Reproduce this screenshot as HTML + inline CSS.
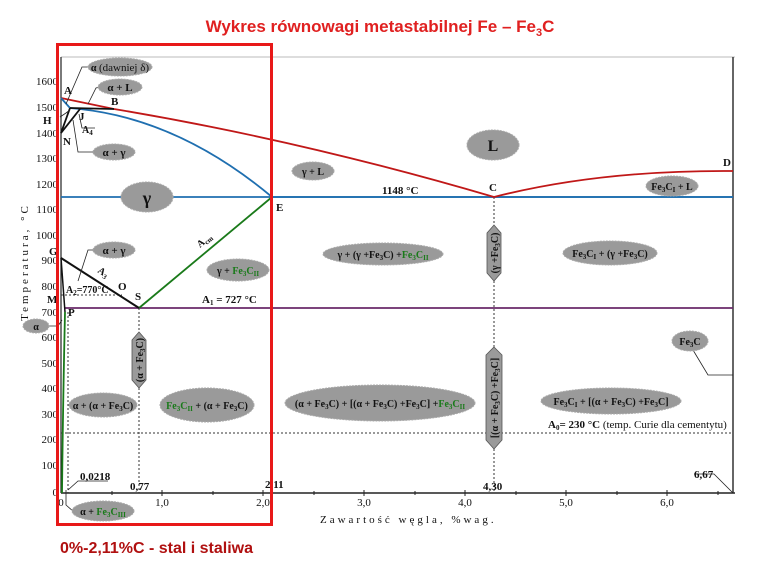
<!DOCTYPE html>
<html><head><meta charset="utf-8"><style>
html,body{margin:0;padding:0;background:#fff;width:760px;height:570px;overflow:hidden}
svg{display:block}
text{font-family:"Liberation Serif",serif;font-weight:bold;fill:#111}
.t{font-size:11px}
.n{font-size:11px;font-weight:normal}
.e{fill:#9a9a9a;stroke:#aaa;stroke-dasharray:2 1}
.g{fill:#1a7a1a}
</style></head><body>
<svg width="760" height="570" viewBox="0 0 760 570" xmlns="http://www.w3.org/2000/svg">
<text x="380" y="32" text-anchor="middle" style="font-family:'Liberation Sans',sans-serif;font-size:17px;fill:#e02020">Wykres równowagi metastabilnej Fe – Fe<tspan font-size="11" dy="4">3</tspan><tspan dy="-4">C</tspan></text>

<!-- axes -->
<line x1="61" y1="57" x2="735" y2="57" stroke="#bbb" stroke-width="1"/>
<line x1="61" y1="57" x2="61" y2="493" stroke="#222" stroke-width="1.2"/>
<line x1="61" y1="493" x2="735" y2="493" stroke="#222" stroke-width="1.5"/>
<line x1="733" y1="57" x2="733" y2="493" stroke="#333" stroke-width="1.5"/>
<g stroke="#222" stroke-width="1">
<line x1="162" y1="490" x2="162" y2="496"/><line x1="263" y1="490" x2="263" y2="496"/><line x1="364" y1="490" x2="364" y2="496"/><line x1="465" y1="490" x2="465" y2="496"/><line x1="566" y1="490" x2="566" y2="496"/><line x1="667" y1="490" x2="667" y2="496"/>
<line x1="112" y1="491" x2="112" y2="495"/><line x1="213" y1="491" x2="213" y2="495"/><line x1="314" y1="491" x2="314" y2="495"/><line x1="415" y1="491" x2="415" y2="495"/><line x1="516" y1="491" x2="516" y2="495"/><line x1="617" y1="491" x2="617" y2="495"/><line x1="718" y1="491" x2="718" y2="495"/>
</g>
<g class="n" text-anchor="end" font-size="11">
<text class="n" x="58" y="85">1600</text><text class="n" x="58" y="111">1500</text><text class="n" x="58" y="137">1400</text><text class="n" x="58" y="162">1300</text><text class="n" x="58" y="188">1200</text><text class="n" x="58" y="213">1100</text><text class="n" x="58" y="239">1000</text><text class="n" x="58" y="264">900</text><text class="n" x="58" y="290">800</text><text class="n" x="58" y="316">700</text><text class="n" x="58" y="341">600</text><text class="n" x="58" y="367">500</text><text class="n" x="58" y="392">400</text><text class="n" x="58" y="418">300</text><text class="n" x="58" y="443">200</text><text class="n" x="58" y="469">100</text><text class="n" x="58" y="496">0</text>
</g>
<g font-size="11" text-anchor="middle">
<text class="n" x="61" y="506">0</text><text class="n" x="162" y="506">1,0</text><text class="n" x="263" y="506">2,0</text><text class="n" x="364" y="506">3,0</text><text class="n" x="465" y="506">4,0</text><text class="n" x="566" y="506">5,0</text><text class="n" x="667" y="506">6,0</text>
</g>
<text class="n" x="320" y="523" font-size="11" letter-spacing="3">Zawartość węgla, %wag.</text>
<text class="n" transform="translate(28,262) rotate(-90)" text-anchor="middle" font-size="11" letter-spacing="3">Temperatura, °C</text>

<!-- dotted -->
<g stroke="#333" stroke-width="1" stroke-dasharray="2 2" fill="none">
<line x1="61" y1="433" x2="733" y2="433"/>
<line x1="61" y1="295" x2="122" y2="295"/>
<line x1="139" y1="308" x2="139" y2="493"/>
<line x1="494" y1="197" x2="494" y2="493"/>
<line x1="68" y1="312" x2="68" y2="493"/>
<line x1="272" y1="197" x2="272" y2="493"/>
</g>

<!-- lines -->
<line x1="61" y1="197" x2="733" y2="197" stroke="#1f6fb0" stroke-width="1.8"/>
<line x1="272" y1="197" x2="733" y2="197" stroke="#1f6fb0" stroke-width="1.8"/>
<line x1="64" y1="308" x2="733" y2="308" stroke="#6a2a6a" stroke-width="1.8"/>
<path d="M61,98 L114,109 Q300,140 494,197 Q600,170 733,171" fill="none" stroke="#c01818" stroke-width="1.8"/>
<path d="M61,98 L70,108 L80,109 Q180,120 272,197" fill="none" stroke="#1f6fb0" stroke-width="1.8"/>
<line x1="272" y1="197" x2="139" y2="308" stroke="#1a7a1a" stroke-width="1.8"/>
<path d="M65,312 Q63,400 62,493" fill="none" stroke="#1a7a1a" stroke-width="1.8"/>
<line x1="61" y1="258" x2="139" y2="308" stroke="#111" stroke-width="2"/>
<line x1="61" y1="258" x2="65" y2="312" stroke="#111" stroke-width="1.5"/>
<line x1="70" y1="108" x2="114" y2="109" stroke="#111" stroke-width="1.8"/>
<line x1="61" y1="133" x2="70" y2="108" stroke="#111" stroke-width="1.8"/>
<line x1="61" y1="133" x2="80" y2="109" stroke="#111" stroke-width="1.8"/>

<!-- leaders -->
<g stroke="#222" stroke-width="0.8" fill="none">
<polyline points="66,104 82,67 92,67"/>
<polyline points="88,104 96,88 100,87"/>
<polyline points="73,120 78,152 96,152"/>
<polyline points="60,117 66,113 70,110"/>
<polyline points="79,114 82,128 95,128"/>
<polyline points="78,281 88,250 96,250"/>
<polyline points="48,326 58,326 62,320"/>
<polyline points="66,490 66,505 74,512"/>
<polyline points="68,490 78,481 108,481"/>
<polyline points="693,350 708,375 733,375"/>
<polyline points="694,474 714,474 733,493"/>
</g>

<!-- labels -->
<g class="t">
<text x="64" y="94">A</text><text x="111" y="105">B</text><text x="43" y="124">H</text><text x="79" y="120">J</text><text x="63" y="145">N</text>
<text x="82" y="133" font-size="10">A<tspan font-size="7" dy="2">4</tspan></text>
<text x="49" y="255">G</text><text x="47" y="303">M</text><text x="68" y="316">P</text><text x="118" y="290">O</text><text x="135" y="300">S</text><text x="276" y="211">E</text><text x="489" y="191">C</text><text x="723" y="166">D</text>
<text x="66" y="293" font-size="10">A<tspan font-size="7" dy="2">2</tspan><tspan dy="-2">=770°C</tspan></text>
<text x="97" y="272" font-size="10" transform="rotate(33 97 272)">A<tspan font-size="7" dy="2">3</tspan></text>
<text x="200" y="248" font-size="10" transform="rotate(-40 200 248)">A<tspan font-size="7" dy="2">cm</tspan></text>
<text x="202" y="303">A<tspan font-size="7" dy="2">1</tspan><tspan dy="-2"> = 727 °C</tspan></text>
<text x="382" y="194">1148 °C</text>
<text x="548" y="428">A<tspan font-size="7" dy="2">0</tspan><tspan dy="-2">= 230  °C </tspan><tspan class="n" font-size="9">(temp. Curie dla cementytu)</tspan></text>
<text x="80" y="480">0,0218</text><text x="130" y="490">0,77</text><text x="265" y="488">2,11</text><text x="483" y="490">4,30</text><text x="694" y="478">6,67</text>
</g>

<!-- ellipses -->
<g>
<ellipse class="e" cx="120" cy="67" rx="32" ry="9"/><text x="120" y="71" text-anchor="middle" font-size="10">α <tspan class="n">(dawniej δ)</tspan></text>
<ellipse class="e" cx="120" cy="87" rx="22" ry="8"/><text x="120" y="91" text-anchor="middle" font-size="11">α + L</text>
<ellipse class="e" cx="114" cy="152" rx="21" ry="8"/><text x="114" y="156" text-anchor="middle" font-size="11">α + γ</text>
<ellipse class="e" cx="114" cy="250" rx="21" ry="8"/><text x="114" y="254" text-anchor="middle" font-size="11">α + γ</text>
<ellipse class="e" cx="147" cy="197" rx="26" ry="15"/><text x="147" y="204" text-anchor="middle" font-size="18">γ</text>
<ellipse class="e" cx="493" cy="145" rx="26" ry="15"/><text x="493" y="151" text-anchor="middle" font-size="16">L</text>
<ellipse class="e" cx="313" cy="171" rx="21" ry="9"/><text x="313" y="175" text-anchor="middle" font-size="10">γ + L</text>
<ellipse class="e" cx="672" cy="186" rx="26" ry="10"/><text x="672" y="190" text-anchor="middle" font-size="10">Fe<tspan font-size="7" dy="2">3</tspan><tspan dy="-2">C</tspan><tspan font-size="7" dy="2">I</tspan><tspan dy="-2"> + L</tspan></text>
<ellipse class="e" cx="238" cy="270" rx="31" ry="11"/><text x="238" y="274" text-anchor="middle" font-size="10">γ + <tspan class="g">Fe<tspan font-size="7" dy="2">3</tspan><tspan dy="-2">C</tspan><tspan font-size="7" dy="2">II</tspan></tspan></text>
<ellipse class="e" cx="383" cy="254" rx="60" ry="11"/><text x="383" y="258" text-anchor="middle" font-size="10">γ + (γ +Fe<tspan font-size="7" dy="2">3</tspan><tspan dy="-2">C) +</tspan><tspan class="g">Fe<tspan font-size="7" dy="2">3</tspan><tspan dy="-2">C</tspan><tspan font-size="7" dy="2">II</tspan></tspan></text>
<ellipse class="e" cx="610" cy="253" rx="47" ry="12"/><text x="610" y="257" text-anchor="middle" font-size="10">Fe<tspan font-size="7" dy="2">3</tspan><tspan dy="-2">C</tspan><tspan font-size="7" dy="2">I</tspan><tspan dy="-2"> + (γ +Fe</tspan><tspan font-size="7" dy="2">3</tspan><tspan dy="-2">C)</tspan></text>
<ellipse class="e" cx="103" cy="405" rx="34" ry="12"/><text x="103" y="409" text-anchor="middle" font-size="10">α + (α + Fe<tspan font-size="7" dy="2">3</tspan><tspan dy="-2">C)</tspan></text>
<ellipse class="e" cx="207" cy="405" rx="47" ry="17"/><text x="207" y="409" text-anchor="middle" font-size="10"><tspan class="g">Fe<tspan font-size="7" dy="2">3</tspan><tspan dy="-2">C</tspan><tspan font-size="7" dy="2">II</tspan></tspan><tspan dy="-2"> + (α + Fe</tspan><tspan font-size="7" dy="2">3</tspan><tspan dy="-2">C)</tspan></text>
<ellipse class="e" cx="380" cy="403" rx="95" ry="18"/><text x="380" y="407" text-anchor="middle" font-size="10">(α + Fe<tspan font-size="7" dy="2">3</tspan><tspan dy="-2">C) + [(α + Fe</tspan><tspan font-size="7" dy="2">3</tspan><tspan dy="-2">C) +Fe</tspan><tspan font-size="7" dy="2">3</tspan><tspan dy="-2">C] +</tspan><tspan class="g">Fe<tspan font-size="7" dy="2">3</tspan><tspan dy="-2">C</tspan><tspan font-size="7" dy="2">II</tspan></tspan></text>
<ellipse class="e" cx="611" cy="401" rx="70" ry="13"/><text x="611" y="405" text-anchor="middle" font-size="10">Fe<tspan font-size="7" dy="2">3</tspan><tspan dy="-2">C</tspan><tspan font-size="7" dy="2">I</tspan><tspan dy="-2"> + [(α + Fe</tspan><tspan font-size="7" dy="2">3</tspan><tspan dy="-2">C) +Fe</tspan><tspan font-size="7" dy="2">3</tspan><tspan dy="-2">C]</tspan></text>
<ellipse class="e" cx="690" cy="341" rx="18" ry="10"/><text x="690" y="345" text-anchor="middle" font-size="10">Fe<tspan font-size="7" dy="2">3</tspan><tspan dy="-2">C</tspan></text>
<ellipse class="e" cx="36" cy="326" rx="13" ry="7"/><text x="36" y="330" text-anchor="middle" font-size="10">α</text>
<ellipse class="e" cx="103" cy="511" rx="31" ry="10"/><text x="103" y="515" text-anchor="middle" font-size="10">α + <tspan class="g">Fe<tspan font-size="7" dy="2">3</tspan><tspan dy="-2">C</tspan><tspan font-size="7" dy="2">III</tspan></tspan></text>
</g>
<!-- hexagon labels -->
<polygon points="139,332 146,340 146,380 139,388 132,380 132,340" fill="#9a9a9a" stroke="#555" stroke-width="0.8"/>
<text transform="translate(143,360) rotate(-90)" text-anchor="middle" font-size="10">(α + Fe<tspan font-size="7" dy="2">3</tspan><tspan dy="-2">C)</tspan></text>
<polygon points="494,225 501,233 501,273 494,281 487,273 487,233" fill="#9a9a9a" stroke="#555" stroke-width="0.8"/>
<text transform="translate(498,253) rotate(-90)" text-anchor="middle" font-size="10">(γ +Fe<tspan font-size="7" dy="2">3</tspan><tspan dy="-2">C)</tspan></text>
<polygon points="494,347 502,355 502,440 494,449 486,440 486,355" fill="#9a9a9a" stroke="#555" stroke-width="0.8"/>
<text transform="translate(498,398) rotate(-90)" text-anchor="middle" font-size="10">[(α + Fe<tspan font-size="7" dy="2">3</tspan><tspan dy="-2">C) +Fe</tspan><tspan font-size="7" dy="2">3</tspan><tspan dy="-2">C]</tspan></text>

<!-- red frame -->
<rect x="57.5" y="44.5" width="214" height="480" fill="none" stroke="#e81818" stroke-width="3"/>
<text x="60" y="553" style="font-family:'Liberation Sans',sans-serif;font-size:16px;fill:#b01010">0%-2,11%C - stal i staliwa</text>
</svg>
</body></html>
